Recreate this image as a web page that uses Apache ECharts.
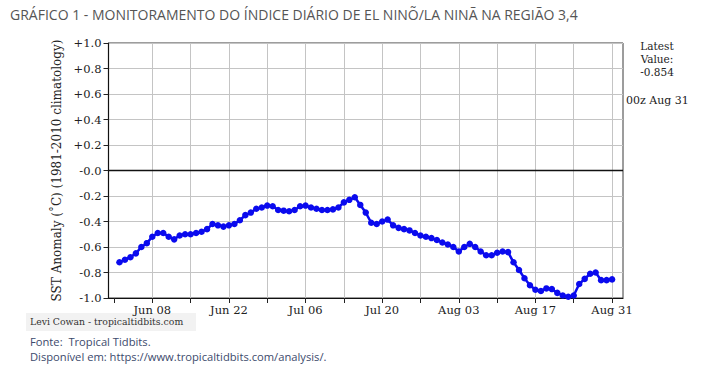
<!DOCTYPE html>
<html>
<head>
<meta charset="utf-8">
<script src="https://cdn.jsdelivr.net/npm/echarts@6/dist/echarts.min.js"></script>
<style>html,body{margin:0;padding:0;background:#fff}#c{width:708px;height:367px}</style>
</head>
<body>
<div id="c"></div>
<script>
// Axis range: daily categories from May 31 to Sep 2
const axisStart = [5, 31]; // month (1-based), day
const axisDays = 95;
const monthNames = ['Jan','Feb','Mar','Apr','May','Jun','Jul','Aug','Sep','Oct','Nov','Dec'];
const tickLabels = ['Jun 08','Jun 22','Jul 06','Jul 20','Aug 03','Aug 17','Aug 31'];
const firstDataDate = 'Jun 02';
// Daily Niño 3.4 SST anomaly (°C), Jun 02 .. Aug 31
const anomaly = [
  -0.72, -0.70, -0.68, -0.65, -0.60, -0.57, -0.52, -0.49, -0.49, -0.52,
  -0.54, -0.51, -0.50, -0.50, -0.49, -0.48, -0.46, -0.42, -0.43, -0.44,
  -0.43, -0.42, -0.39, -0.35, -0.33, -0.30, -0.29, -0.275, -0.28, -0.31,
  -0.315, -0.32, -0.31, -0.28, -0.275, -0.29, -0.30, -0.31, -0.31, -0.305,
  -0.29, -0.25, -0.23, -0.21, -0.27, -0.33, -0.41, -0.42, -0.40, -0.385,
  -0.43, -0.45, -0.46, -0.47, -0.49, -0.51, -0.52, -0.53, -0.545, -0.565,
  -0.58, -0.60, -0.635, -0.60, -0.575, -0.60, -0.635, -0.665, -0.665, -0.645,
  -0.635, -0.64, -0.72, -0.78, -0.845, -0.90, -0.935, -0.945, -0.925, -0.93,
  -0.96, -0.98, -0.99, -0.98, -0.89, -0.85, -0.81, -0.80, -0.86, -0.86,
  -0.854
];

// build categories
const categories = [];
{
  const d = new Date(Date.UTC(2020, axisStart[0] - 1, axisStart[1]));
  for (let i = 0; i < axisDays; i++) {
    const dd = d.getUTCDate();
    categories.push(monthNames[d.getUTCMonth()] + ' ' + (dd < 10 ? '0' + dd : '' + dd));
    d.setUTCDate(d.getUTCDate() + 1);
  }
}
const startIdx = categories.indexOf(firstDataDate);
const seriesData = categories.map((c, i) => {
  const k = i - startIdx;
  return (k >= 0 && k < anomaly.length) ? anomaly[k] : null;
});
const firstLabelIdx = categories.indexOf(tickLabels[0]);

const serif = 'DejaVu Serif';
const chart = echarts.init(document.getElementById('c'), null, {renderer: 'svg'});
chart.setOption({
  backgroundColor: '#ffffff',
  animation: false,
  grid: {left: 108.5, right: 85, top: 43, bottom: 69, show: true, borderColor: '#3a3a3a', borderWidth: 1, backgroundColor: 'transparent'},
  xAxis: {
    type: 'category',
    data: categories,
    boundaryGap: false,
    axisLine: {onZero: false, lineStyle: {color: '#111', width: 1.2}},
    axisTick: {show: true, length: 5, interval: (i) => (i - firstLabelIdx) % 7 === 0 || (i - firstLabelIdx) === -7, lineStyle: {color: '#222'}},
    axisLabel: {interval: (i, v) => tickLabels.indexOf(v) >= 0, fontFamily: serif, fontSize: 11.5, color: '#222', margin: 6},
    splitLine: {show: true, interval: (i) => i >= firstLabelIdx && (i - firstLabelIdx) % 7 === 0, lineStyle: {color: '#c4c4c4', width: 1}}
  },
  yAxis: {
    type: 'value',
    min: -1, max: 1, interval: 0.2,
    name: 'SST Anomaly (˚C) (1981-2010 climatology)',
    nameLocation: 'middle',
    nameGap: 44,
    nameTextStyle: {fontFamily: serif, fontSize: 12, color: '#222'},
    axisLine: {show: true, lineStyle: {color: '#111', width: 1.2}},
    axisTick: {show: true, length: 5, lineStyle: {color: '#222'}},
    axisLabel: {
      fontFamily: serif, fontSize: 11.5, color: '#222', margin: 7,
      formatter: (v) => {
        const r = Math.round(v * 10) / 10;
        if (r > 0) return '+' + r.toFixed(1);
        if (r === 0) return '-0.0';
        return r.toFixed(1);
      }
    },
    splitLine: {show: true, lineStyle: {color: '#c4c4c4', width: 1}}
  },
  series: [{
    type: 'line',
    data: seriesData,
    connectNulls: false,
    symbol: 'circle',
    symbolSize: 6.5,
    showSymbol: true,
    showAllSymbol: true,
    itemStyle: {color: '#0a0aee'},
    lineStyle: {color: '#0a0aee', width: 2.5},
    z: 5,
    markLine: {
      silent: true,
      symbol: 'none',
      label: {show: false},
      lineStyle: {color: '#111', width: 1.3, type: 'solid'},
      data: [{yAxis: 0}]
    }
  }],
  graphic: [
    {type: 'text', left: 10, top: 7, style: {text: 'GRÁFICO 1 - MONITORAMENTO DO ÍNDICE DIÁRIO DE EL NINÕ/LA NINÃ NA REGIÃO 3,4', font: '14px "Open Sans"', fill: '#555555'}},
    {type: 'rect', shape: {x: 26, y: 313, width: 170, height: 18}, style: {fill: '#f2f2f2'}, z: -1},
    {type: 'text', left: 30, top: 317, style: {text: 'Levi Cowan - tropicaltidbits.com', font: '9.3px "DejaVu Serif"', fill: '#333'}},
    {type: 'text', x: 657, y: 46, style: {text: 'Latest', font: '10.5px "DejaVu Serif"', fill: '#222', textAlign: 'center', textVerticalAlign: 'middle'}},
    {type: 'text', x: 657, y: 59, style: {text: 'Value:', font: '10.5px "DejaVu Serif"', fill: '#222', textAlign: 'center', textVerticalAlign: 'middle'}},
    {type: 'text', x: 657, y: 72, style: {text: '-0.854', font: '10.5px "DejaVu Serif"', fill: '#222', textAlign: 'center', textVerticalAlign: 'middle'}},
    {type: 'text', x: 626, y: 100, style: {text: '00z Aug 31', font: '11px "DejaVu Serif"', fill: '#222', textAlign: 'left', textVerticalAlign: 'middle'}},
    {type: 'text', left: 30, top: 336, style: {text: 'Fonte:  Tropical Tidbits.', font: '11.2px "Open Sans"', fill: '#3c4a6c'}},
    {type: 'text', left: 30, top: 351, style: {text: 'Disponível em: https://www.tropicaltidbits.com/analysis/.', font: '11.2px "Open Sans"', fill: '#3c4a6c'}}
  ]
});
</script>
</body>
</html>
